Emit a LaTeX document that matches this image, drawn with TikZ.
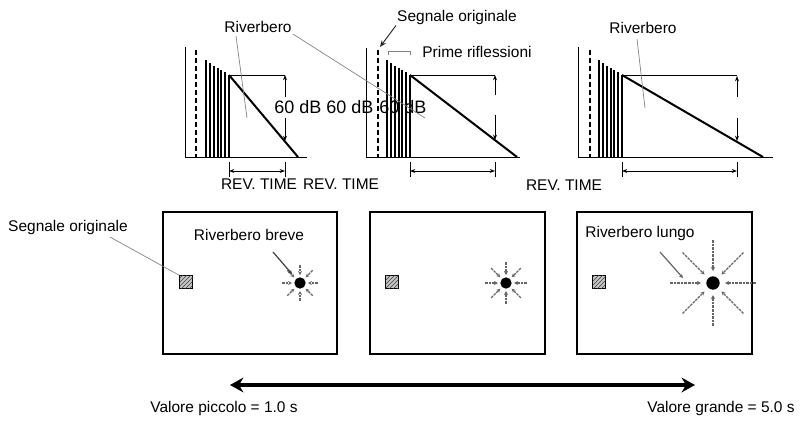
\documentclass[tikz,border=0pt]{standalone}
\usepackage{fontspec}
\setmainfont{Liberation Sans}
\usetikzlibrary{arrows.meta,patterns}

\begin{document}
\begin{tikzpicture}[x=0.75pt,y=0.75pt,yscale=-1,xscale=1,
  lbl/.style={inner sep=0.75pt,font=\fontsize{11.6}{13}\selectfont},
  dblbl/.style={inner sep=0.75pt,font=\fontsize{13.5}{15}\selectfont},
  lead/.style={draw=gray,line width=0.5pt},
  axis/.style={line width=0.75pt},
  decay/.style={line width=1.5pt},
  refl/.style={line width=1.2pt},
  dimarr/.style={line width=0.6pt,{Stealth[length=4pt,width=3pt]}-{Stealth[length=4pt,width=3pt]}},
  varr/.style={line width=0.6pt,-{Stealth[length=4pt,width=3pt]}},
  box/.style={line width=1.9pt},
  src/.style={draw,line width=0.6pt,fill=gray!45,postaction={pattern=north east lines,pattern color=black!75},minimum size=9.5pt,inner sep=0pt},
  dot/.style={circle,fill,inner sep=0pt,minimum size=8.5pt},
  ray/.style={draw=black!60,line width=0.9pt,dash pattern=on 2pt off 0.7pt,-{Stealth[length=3pt,width=3pt]}}
]
\path[use as bounding box] (0,0) rectangle (801,426);

%Plot short
\draw[axis] (185,47) -- (185,157) (185,157) -- (307,157) ;
\draw[axis,dashed,line width=1.3pt,dash pattern=on 4pt off 2pt] (196,50) -- (196,157) ;
\draw[refl] (206,60) -- (206,157) (210,63) -- (210,157) (214,66) -- (214,157) (218,68) -- (218,157) (221,70) -- (221,157) (225,72) -- (225,157) (229,75) -- (229,157) ;
\draw[axis] (229,75) -- (285,75) ;
\draw[decay] (229,75) -- (298,157) ;
\draw[varr] (285,97) -- (285,75) ;
\draw[varr] (285,118) -- (285,141) ;
\draw[axis] (229,162) -- (229,177) (285,162) -- (285,177) ;
\draw[dimarr] (229,171) -- (285,171) ;

%Plot medium
\draw[axis] (366,48) -- (366,157) (366,157) -- (520,157) ;
\draw[axis,dashed,line width=1.3pt,dash pattern=on 4pt off 2pt] (378,50) -- (378,157) ;
\draw[refl] (387,60) -- (387,157) (391,63) -- (391,157) (395,66) -- (395,157) (399,68) -- (399,157) (402,70) -- (402,157) (406,72) -- (406,157) (410,75) -- (410,157) ;
\draw[axis] (410,75) -- (495,75) ;
\draw[decay] (410,75) -- (517,157) ;
\draw[varr] (495,95) -- (495,75) ;
\draw[varr] (495,115) -- (495,140) ;
\draw[axis] (410,162) -- (410,177) (495,162) -- (495,177) ;
\draw[dimarr] (410,171) -- (495,171) ;
\draw[lead] (388,55) -- (388,51) -- (410,51) -- (410,55) ;

%Plot long
\draw[axis] (578,47) -- (578,157) (578,157) -- (773,157) ;
\draw[axis,dashed,line width=1.3pt,dash pattern=on 4pt off 2pt] (590,50) -- (590,157) ;
\draw[refl] (599,60) -- (599,157) (603,63) -- (603,157) (607,66) -- (607,157) (611,68) -- (611,157) (614,70) -- (614,157) (618,72) -- (618,157) (622,75) -- (622,157) ;
\draw[axis] (622,75) -- (737,75) ;
\draw[decay] (622,75) -- (763,157) ;
\draw[varr] (737,97) -- (737,76) ;
\draw[varr] (737,118) -- (737,141) ;
\draw[axis] (622,162) -- (622,177) (737,162) -- (737,177) ;
\draw[dimarr] (622,171) -- (737,171) ;

% Text Node
\node[lbl] (rivA) at (258,27) {Riverbero};
\node[lbl] (rivC) at (643,28) {Riverbero};
\node[lbl] (segA) at (457,17) {Segnale originale};
\node[lbl] (prime) at (477,52) {Prime riflessioni};
\node[dblbl] (dbA) at (298,107) {60 dB};
\node[dblbl] (dbB) at (350,107) {60 dB};
\node[dblbl] (dbC) at (403,107) {60 dB};
\node[lbl] (revA) at (259,184) {REV. TIME};
\node[lbl] (revB) at (341,184) {REV. TIME};
\node[lbl] (revC) at (564,185) {REV. TIME};

%Leaders
\coordinate (rivAfoot) at (236,36);
\coordinate (rivAend) at (247,118);
\coordinate (rivBend) at (425,118);
\coordinate (rivCfoot) at (637,39);
\coordinate (rivCend) at (645,108);
\coordinate (dashB) at (380,47);
\draw[lead] (rivAfoot) -- (rivAend) ;
\draw[lead] (rivA.south east) -- (rivBend) ;
\draw[lead] (rivCfoot) -- (rivCend) ;
\draw[lead,draw=black!85,line width=0.7pt,-{Stealth[length=5pt,width=4pt]}] (segA.south west) -- (dashB) ;

%Rooms
\draw[box] (163,212) rectangle (337,354) ;
\draw[box] (370,212) rectangle (545,354) ;
\draw[box] (577,212) rectangle (752,354) ;

\node[src] (srcA) at (186,282) {};
\node[src] (srcB) at (392,282) {};
\node[src] (srcC) at (599,282) {};

\node[dot] (sunA) at (300,283) {};
\node[dot] (sunB) at (506,283) {};
\node[dot,minimum size=10pt] (sunC) at (713,283) {};

\foreach \a in {0,45,...,315} \draw[ray] ([shift={(\a:18)}]sunA.center) -- ([shift={(\a:8)}]sunA.center);
\foreach \a in {0,45,...,315} \draw[ray] ([shift={(\a:21)}]sunB.center) -- ([shift={(\a:8)}]sunB.center);
\foreach \a in {0,45,...,315} \draw[ray] ([shift={(\a:43)}]sunC.center) -- ([shift={(\a:12)}]sunC.center);

\coordinate (inA) at (273,252);
\coordinate (inAend) at (292,274);
\coordinate (inC) at (660,252);
\coordinate (inCend) at (683,278);
\draw[ray,draw=black!75,solid] (inA) -- (inAend) ;
\draw[ray,solid] (inC) -- (inCend) ;

\node[lbl] (segB) at (68,227) {Segnale originale};
\node[lbl] (breve) at (249,235) {Riverbero breve};
\node[lbl] (lungo) at (640,233) {Riverbero lungo};
\coordinate (segBfoot) at (110,237);
\draw[lead] (segBfoot) -- (srcA.north west) ;

%Scale
\coordinate (lo) at (230,385);
\coordinate (hi) at (695,385);
\draw[line width=3pt,{Stealth[length=10pt,width=11pt]}-{Stealth[length=10pt,width=11pt]}] (lo) -- (hi) ;
\node[lbl] (small) at (224,408) {Valore piccolo = 1.0 s};
\node[lbl] (large) at (721,408) {Valore grande = 5.0 s};

\end{tikzpicture}
\end{document}
